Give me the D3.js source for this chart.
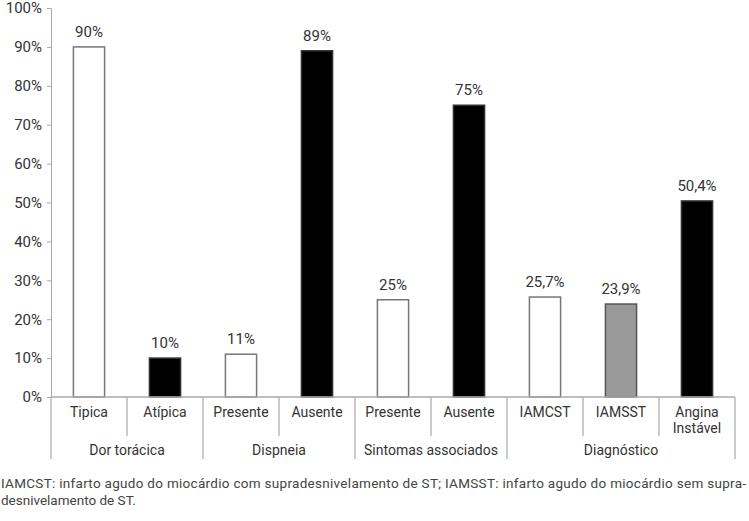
<!DOCTYPE html>
<html>
<head>
<meta charset="utf-8">
<script src="https://cdn.jsdelivr.net/npm/d3@7"></script>
<style>
  body { margin: 0; background: #fff; }
  svg { display: block; font-family: "Liberation Sans Narrow", "Roboto", sans-serif; }
</style>
</head>
<body>
<svg id="chart" width="749" height="521"></svg>
<script>
// data
const categories = ["Tipica", "Atípica", "Presente", "Ausente", "Presente", "Ausente", "IAMCST", "IAMSST", "Angina\nInstável"];
const values = [90, 10, 11, 89, 25, 75, 25.7, 23.9, 50.4];
const valueLabels = ["90%", "10%", "11%", "89%", "25%", "75%", "25,7%", "23,9%", "50,4%"];
const barKinds = ["white", "black", "white", "black", "white", "black", "white", "gray", "black"];
const groups = ["Dor torácica", "Dispneia", "Sintomas associados", "Diagnóstico"];
const groupSizes = [2, 2, 2, 3];
const yTicks = [0, 10, 20, 30, 40, 50, 60, 70, 80, 90, 100];
const footnote = [
  "IAMCST: infarto agudo do miocárdio com supradesnivelamento de ST; IAMSST: infarto agudo do miocárdio sem supra-",
  "desnivelamento de ST."
];

const fills = { white: "#fff", black: "#000", gray: "#999" };
const strokes = { white: "#777", black: "#333", gray: "#555" };
const axisColor = "#aaa";
const textColor = "#333";

const svg = d3.select("#chart");
const plotL = 51, plotR = 735, plotT = 8, plotB = 397;

/* scales */
let xScale = d3.scaleBand()
  .domain(d3.range(categories.length))
  .range([plotL, plotR])
  .padding(0);

let yScale = d3.scaleLinear()
  .domain([0, 100])
  .range([plotB, plotT]);

/* y axis */
let yAxis = svg.append("g")
  .attr("transform", "translate(" + plotL + ",0)")
  .call(d3.axisLeft(yScale).tickValues(yTicks).tickSize(4).tickPadding(5).tickFormat(d => d + "%"));
yAxis.select(".domain").attr("stroke", axisColor);
yAxis.selectAll(".tick line").attr("stroke", axisColor);
yAxis.selectAll(".tick text")
  .attr("fill", textColor)
  .style("font-size", "15px")
  .style("font-family", "'Liberation Sans Narrow', 'Roboto', sans-serif");

/* bars */
const barW = xScale.bandwidth() * 0.41;
svg.append("g").selectAll("rect")
  .data(values)
  .join("rect")
  .attr("x", (d, i) => xScale(i) + (xScale.bandwidth() - barW) / 2)
  .attr("y", d => yScale(d))
  .attr("width", barW)
  .attr("height", d => yScale(0) - yScale(d))
  .attr("fill", (d, i) => fills[barKinds[i]])
  .attr("stroke", (d, i) => strokes[barKinds[i]])
  .attr("stroke-width", 1.5);

/* value labels */
svg.append("g").selectAll("text")
  .data(values)
  .join("text")
  .attr("x", (d, i) => xScale(i) + xScale.bandwidth() / 2)
  .attr("y", d => yScale(d) - 10)
  .attr("text-anchor", "middle")
  .attr("fill", textColor)
  .style("font-size", "15px")
  .text((d, i) => valueLabels[i]);

/* x axis line */
svg.append("line")
  .attr("x1", plotL).attr("x2", plotR)
  .attr("y1", plotB).attr("y2", plotB)
  .attr("stroke", axisColor).attr("stroke-width", 1.5);

/* category separators and labels */
let groupStarts = [0];
groupSizes.forEach((s, i) => groupStarts.push(groupStarts[i] + s));

const sepG = svg.append("g").attr("stroke", axisColor).attr("stroke-width", 1.2);
d3.range(categories.length + 1).forEach(i => {
  const x = i < categories.length ? xScale(i) : plotR;
  const isGroupEdge = groupStarts.includes(i);
  sepG.append("line")
    .attr("x1", x).attr("x2", x)
    .attr("y1", plotB)
    .attr("y2", isGroupEdge ? 459 : 436);
});

const catText = svg.append("g").selectAll("text")
  .data(categories)
  .join("text")
  .attr("x", (d, i) => xScale(i) + xScale.bandwidth() / 2)
  .attr("y", 417)
  .attr("text-anchor", "middle")
  .attr("fill", textColor)
  .style("font-size", "14px");
catText.each(function (d) {
  const lines = d.split("\n");
  lines.forEach((l, j) => {
    d3.select(this).append("tspan")
      .attr("x", d3.select(this).attr("x"))
      .attr("dy", j === 0 ? 0 : 16)
      .text(l);
  });
});

svg.append("g").selectAll("text")
  .data(groups)
  .join("text")
  .attr("x", (d, i) => {
    const a = xScale(groupStarts[i]);
    const b = groupStarts[i + 1] < categories.length ? xScale(groupStarts[i + 1]) : plotR;
    return (a + b) / 2;
  })
  .attr("y", 455)
  .attr("text-anchor", "middle")
  .attr("fill", textColor)
  .style("font-size", "14px")
  .text(d => d);

/* footnote */
svg.append("g").selectAll("text")
  .data(footnote)
  .join("text")
  .attr("x", 1)
  .attr("y", (d, i) => 488 + i * 17)
  .attr("fill", "#444")
  .style("font-size", "13.5px")
  .attr("textLength", (d, i) => i === 0 ? 745 : null)
  .attr("lengthAdjust", "spacing")
  .text(d => d);
</script>
</body>
</html>
